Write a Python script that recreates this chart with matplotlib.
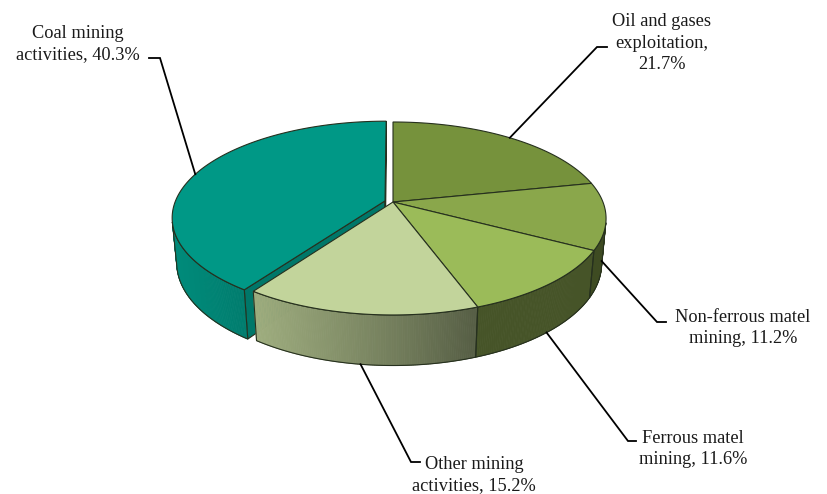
import numpy as np
import matplotlib.pyplot as plt
from matplotlib.patches import Polygon
from matplotlib.colors import to_rgb

# shares of each mining activity, clockwise from 12 o'clock
categories = ["Oil and gases\nexploitation", "Non-ferrous matel\nmining",
              "Ferrous matel\nmining", "Other mining\nactivities",
              "Coal mining\nactivities"]
shares = [21.7, 11.2, 11.6, 15.2, 40.3]
label_sep = [",\n", ", ", ", ", ", ", ", "]
top_colors = ["#76923c", "#8aa74b", "#9bbb59", "#c2d49b", "#009886"]
explode = [0, 0, 0, 0, 0.04]

# label layout: text centre, elbow of the leader and end of its short tail
label_pos = [(662, 43), (743, 328), (693, 449), (474, 475), (78, 44)]
elbow_pos = [(597, 47), (657, 322), (628, 441), (411, 462), (160, 58)]
tail_end = [607, 666, 636, 420, 149]

# simple perspective camera for the 3-D pie
CX, CY = 393, 202
FOCAL = 1100.0
DIST = 5.24
ELEV = np.radians(26.5)
HEIGHT = 0.241
SIN_E, COS_E = np.sin(ELEV), np.cos(ELEV)
CAM = np.array([0.0, -DIST * COS_E, DIST * SIN_E])
EDGE = "#26301e"


def proj(x, y, z):
    v = y * SIN_E + z * COS_E
    d = DIST + y * COS_E - z * SIN_E
    return CX + FOCAL * x / d, CY - FOCAL * v / d


def rim(theta, off, z):
    t = np.radians(theta)
    return proj(np.sin(t) + off[0], np.cos(t) + off[1], z)


def shade(color, k):
    return tuple(np.clip(np.array(to_rgb(color)) * k, 0, 1))


def wall_light(theta):
    t = np.radians(theta)
    light = np.array([-0.9, -0.3]) / np.hypot(0.9, 0.3)
    return 0.45 + 0.46 * max(0.0, np.sin(t) * light[0] + np.cos(t) * light[1])


fig = plt.figure(figsize=(8.27, 4.94), dpi=100)
ax = fig.add_axes([0, 0, 1, 1])
ax.set_xlim(0, 827)
ax.set_ylim(494, 0)
ax.axis("off")

bounds = np.concatenate([[0], np.cumsum(shares)]) / sum(shares) * 360
slices = []
for i, share in enumerate(shares):
    a0, a1 = bounds[i], bounds[i + 1]
    mid = np.radians((a0 + a1) / 2)
    off = (explode[i] * np.sin(mid), explode[i] * np.cos(mid))
    slices.append((a0, a1, off))

# radial cut faces (only seen through the gap of the exploded slice)
for i, (a0, a1, off) in enumerate(slices):
    if explode[i] == 0:
        continue
    for ang, sign in ((a0, -1), (a1, 1)):
        t = np.radians(ang)
        normal = sign * np.array([np.cos(t), -np.sin(t), 0])
        p = np.array([off[0] + 0.5 * np.sin(t), off[1] + 0.5 * np.cos(t), -HEIGHT / 2])
        if normal @ (CAM - p) <= 0:
            continue
        pts = [proj(off[0], off[1], 0), rim(ang, off, 0),
               rim(ang, off, -HEIGHT), proj(off[0], off[1], -HEIGHT)]
        ax.add_patch(Polygon(pts, closed=True, facecolor=shade(top_colors[i], 0.78),
                             edgecolor=EDGE, linewidth=0.8, zorder=1))

# outer walls, built from thin strips so the shading can vary round the rim
strips = []
for i, (a0, a1, off) in enumerate(slices):
    angles = np.linspace(a0, a1, max(int((a1 - a0) * 2), 2) + 1)
    visible = []
    for t0, t1 in zip(angles[:-1], angles[1:]):
        tm = np.radians((t0 + t1) / 2)
        n = np.array([np.sin(tm), np.cos(tm), 0])
        p = np.array([np.sin(tm) + off[0], np.cos(tm) + off[1], -HEIGHT / 2])
        if n @ (CAM - p) <= 0:
            continue
        visible.append((t0, t1))
        depth = DIST + np.cos(tm) * COS_E
        col = shade(top_colors[i], wall_light((t0 + t1) / 2))
        pts = [rim(t0, off, 0), rim(t1, off, 0), rim(t1, off, -HEIGHT), rim(t0, off, -HEIGHT)]
        strips.append((depth, pts, col))
    if visible:
        va, vb = visible[0][0], visible[-1][1]
        arc = np.linspace(va, vb, 120)
        outline = [rim(t, off, 0) for t in arc] + [rim(t, off, -HEIGHT) for t in arc[::-1]]
        slices[i] = (a0, a1, off, outline)
    else:
        slices[i] = (a0, a1, off, None)

for depth, pts, col in sorted(strips, key=lambda s: -s[0]):
    ax.add_patch(Polygon(pts, closed=True, facecolor=col, edgecolor=col,
                         linewidth=0.6, zorder=2))

for i, (a0, a1, off, outline) in enumerate(slices):
    if outline is not None:
        ax.add_patch(Polygon(outline, closed=True, fill=False, edgecolor=EDGE,
                             linewidth=0.8, zorder=3))

# top faces
for i, (a0, a1, off, outline) in enumerate(slices):
    arc = np.linspace(a0, a1, 200)
    pts = [proj(off[0], off[1], 0)] + [rim(t, off, 0) for t in arc]
    ax.add_patch(Polygon(pts, closed=True, facecolor=top_colors[i], edgecolor=EDGE,
                         linewidth=0.8, zorder=4))

# data labels with leader lines
for i, (a0, a1, off, outline) in enumerate(slices):
    mid = (a0 + a1) / 2
    z = 0 if np.cos(np.radians(mid)) > 0 else -HEIGHT
    sx, sy = rim(mid, off, z)
    ex, ey = elbow_pos[i]
    ax.plot([sx, ex, tail_end[i]], [sy, ey, ey], color="black", linewidth=1.3,
            solid_joinstyle="miter", zorder=5)
    text = f"{categories[i]}{label_sep[i]}{shares[i]:.1f}%"
    tx, ty = label_pos[i]
    ax.text(tx, ty, text, ha="center", va="center", multialignment="center",
            fontsize=13.2, family="Liberation Serif", linespacing=1.32,
            color="#1a1a1a", zorder=6)

fig.savefig("out.png", dpi=100)
